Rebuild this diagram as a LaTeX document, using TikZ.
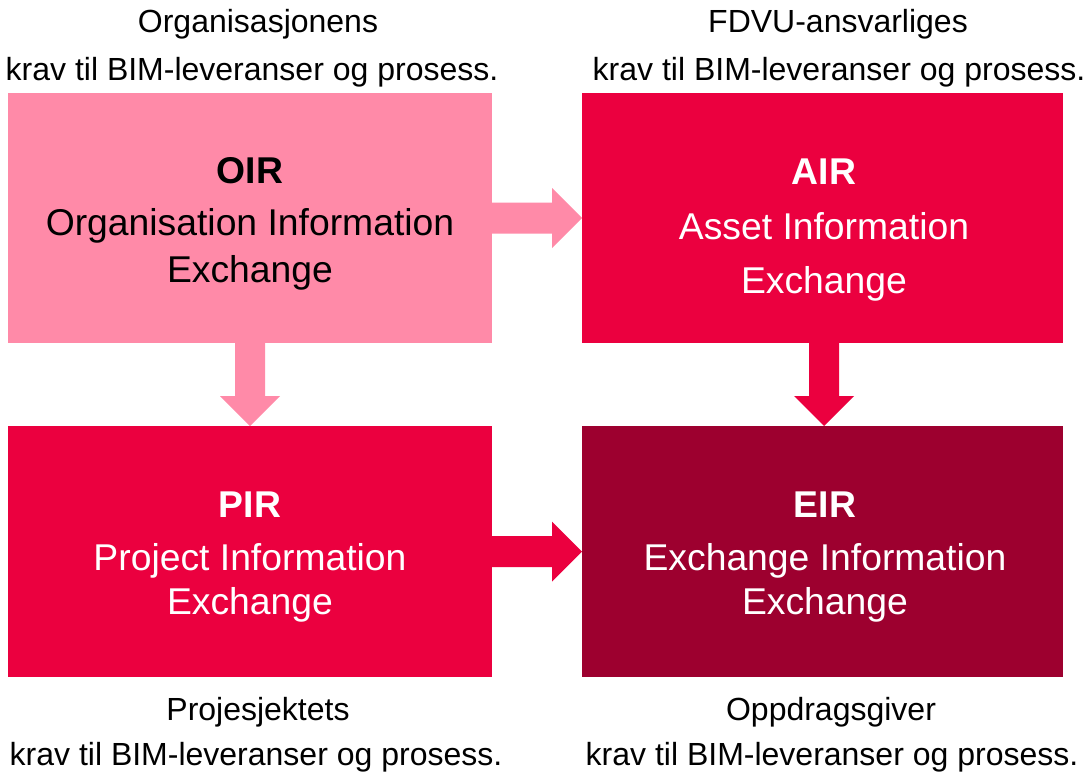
\documentclass[tikz,border=0pt]{standalone}
\usepackage{fontspec}
\setmainfont{Liberation Sans}
\definecolor{pinkc}{RGB}{255,138,168}
\definecolor{redc}{RGB}{235,0,63}
\definecolor{darkc}{RGB}{157,0,47}
\begin{document}
\begin{tikzpicture}[x=1pt,y=-1pt,
  boxnode/.style={draw=none,inner sep=0pt,outer sep=0pt,minimum height=#1},
  boxtxt/.style={anchor=base,inner sep=0pt,font=\fontsize{37.3}{44}\selectfont},
  boxhead/.style={anchor=base,inner sep=0pt,font=\fontsize{37.3}{44}\selectfont\bfseries},
  lbl/.style={anchor=base,inner sep=0pt,font=\fontsize{32}{38}\selectfont}]
\useasboundingbox[fill=white] (0,0) rectangle (1086,772);

% boxes
\node[boxnode=250pt,fill=pinkc,minimum width=484pt] (oir) at (250,218) {};
\node[boxnode=250pt,fill=redc,minimum width=481pt] (air) at (822.5,218) {};
\node[boxnode=251pt,fill=redc,minimum width=484pt] (pir) at (250,551.5) {};
\node[boxnode=251pt,fill=darkc,minimum width=481pt] (eir) at (822.5,551.5) {};

% block arrows
\fill[pinkc] (oir.east) ++(0,-15.5) -- ++(60,0) -- ++(0,-14.5) -- ++(30,30)
  -- ++(-30,30) -- ++(0,-14.5) -- ++(-60,0) -- cycle;
\fill[pinkc] (oir.south) ++(-15,0) -- ++(0,53) -- ++(-15,0) -- ++(30,30)
  -- ++(30,-30) -- ++(-15,0) -- ++(0,-53) -- cycle;
\fill[redc] (air.south) ++(-13.5,0) -- ++(0,53) -- ++(-15,0) -- ++(30,30)
  -- ++(30,-30) -- ++(-15,0) -- ++(0,-53) -- cycle;
\fill[redc] (pir.east) ++(0,-15.5) -- ++(60,0) -- ++(0,-14.5) -- ++(30,30)
  -- ++(-30,30) -- ++(0,-14.5) -- ++(-60,0) -- cycle;

% box texts
\node[boxhead,text=black] (oirA) at (250,183) {OIR};
\node[boxtxt,text=black] (oirB) at (250,235) {Organisation Information};
\node[boxtxt,text=black] (oirC) at (250,282) {Exchange};

\node[boxhead,text=white] (airA) at (824,184) {AIR};
\node[boxtxt,text=white] (airB) at (824,239) {Asset Information};
\node[boxtxt,text=white] (airC) at (824,293) {Exchange};

\node[boxhead,text=white] (pirA) at (250,517) {PIR};
\node[boxtxt,text=white] (pirB) at (250,570) {Project Information};
\node[boxtxt,text=white] (pirC) at (250,614) {Exchange};

\node[boxhead,text=white] (eirA) at (825,517) {EIR};
\node[boxtxt,text=white] (eirB) at (825,570) {Exchange Information};
\node[boxtxt,text=white] (eirC) at (825,614) {Exchange};

% outside labels
\node[lbl] (tlA) at (258,32) {Organisasjonens};
\node[lbl] (tlB) at (252,80) {krav til BIM-leveranser og prosess.};
\node[lbl] (trA) at (838,32) {FDVU-ansvarliges};
\node[lbl] (trB) at (839,80) {krav til BIM-leveranser og prosess.};
\node[lbl] (blA) at (258,720) {Projesjektets};
\node[lbl] (blB) at (256,765) {krav til BIM-leveranser og prosess.};
\node[lbl] (brA) at (831,720) {Oppdragsgiver};
\node[lbl] (brB) at (832,765) {krav til BIM-leveranser og prosess.};
\end{tikzpicture}
\end{document}
